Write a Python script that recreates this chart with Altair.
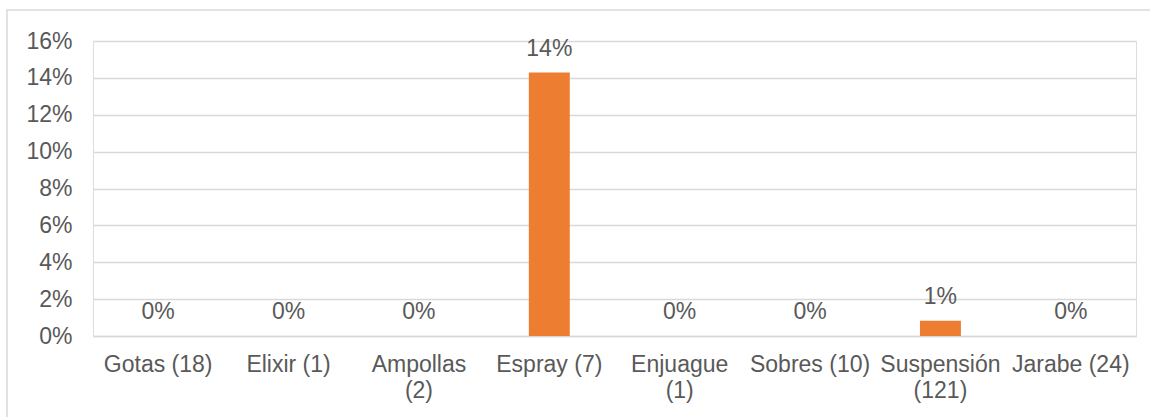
import altair as alt
import pandas as pd

# Presentation forms with their counts, and the share of each reported
categories = ["Gotas (18)", "Elixir (1)", "Ampollas (2)", "Espray (7)",
              "Enjuague (1)", "Sobres (10)", "Suspensión (121)", "Jarabe (24)"]
axis_labels = ["Gotas (18)", "Elixir (1)", "Ampollas\n(2)", "Espray (7)",
               "Enjuague\n(1)", "Sobres (10)", "Suspensión\n(121)", "Jarabe (24)"]
shares = [0.0, 0.0, 0.0, 1 / 7, 0.0, 0.0, 1 / 121, 0.0]
y_ticks = [0.0, 0.02, 0.04, 0.06, 0.08, 0.10, 0.12, 0.14, 0.16]

FONT = "Liberation Sans"
FS = 23
TEXT = "#595959"
GRID = "#d9d9d9"
BAR = "#ED7D31"

df = pd.DataFrame({"categoria": axis_labels, "valor": shares})

W, H = 1043, 295

x_enc = alt.X(
    "categoria:N",
    sort=axis_labels,
    scale=alt.Scale(paddingInner=0.686, paddingOuter=0.343),
    axis=alt.Axis(
        title=None, labelAngle=0, ticks=False, domain=True, domainColor=GRID,
        domainWidth=1.5, labelColor=TEXT, labelFont=FONT, labelFontSize=FS,
        labelPadding=17, labelOverlap=False, labelLimit=300,
        labelLineHeight=26, labelExpr="split(datum.label, '\\n')",
    ),
)
y_enc = alt.Y(
    "valor:Q",
    scale=alt.Scale(domain=[0, 0.16], nice=False),
    axis=alt.Axis(
        title=None, values=y_ticks, tickCount=len(y_ticks), format=".0%",
        ticks=False, domain=False, gridColor=GRID, gridWidth=1.5,
        labelColor=TEXT, labelFont=FONT, labelFontSize=FS, labelPadding=21,
        labelOverlap=False,
    ),
)

bars = alt.Chart(df).mark_bar(color=BAR).encode(x=x_enc, y=y_enc)

labels = alt.Chart(df).mark_text(
    font=FONT, fontSize=FS, color=TEXT, baseline="middle", dy=-24
).encode(
    x=x_enc,
    y=y_enc,
    text=alt.Text("valor:Q", format=".0%"),
)

# Outer chart frame
frame = alt.Chart(pd.DataFrame({"k": [0]})).mark_rect(
    fill=None, stroke=GRID, strokeWidth=1.5
).encode(
    x=alt.value(-86), x2=alt.value(1160 - 93),
    y=alt.value(-31), y2=alt.value(430 - 41),
)

chart = alt.layer(frame, bars, labels).properties(
    width=W, height=H,
    autosize=alt.AutoSizeParams(type="none"),
    padding={"left": 93, "top": 41, "right": 14, "bottom": 81},
).configure_view(stroke=None).configure(background="white")

chart.save("out.html", embed_options={"renderer": "svg", "actions": False})
